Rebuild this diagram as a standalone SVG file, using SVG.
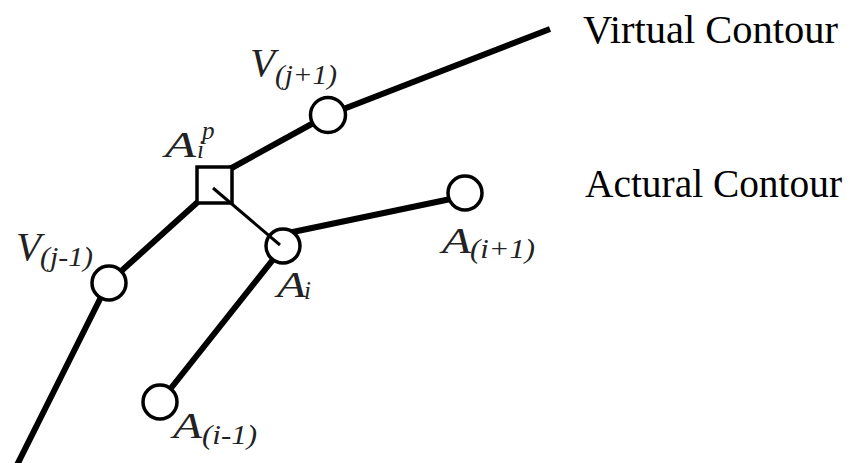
<svg xmlns="http://www.w3.org/2000/svg" width="850" height="463" viewBox="0 0 850 463">
<style>
.thick{stroke:#000;stroke-width:6;fill:none;stroke-linecap:butt}
.thin{stroke:#000;stroke-width:3;fill:none}
.node{fill:#fff;stroke:#000;stroke-width:3.5}
.lab{font-family:"Times New Roman","Liberation Serif",serif;font-style:italic;fill:#222}
.leg{font-family:"Times New Roman","Liberation Serif",serif;font-size:40px;fill:#000}
</style>
<rect width="850" height="463" fill="#fff"/>
<g id="connectors">
<line class="thick" x1="17" y1="465" x2="108" y2="283"/>
<line class="thick" x1="108" y1="283" x2="200" y2="200"/>
<line class="thick" x1="228" y1="170" x2="328" y2="115"/>
<line class="thick" x1="328" y1="115" x2="550" y2="29"/>
<line class="thick" x1="283" y1="247" x2="160" y2="402"/>
<line class="thick" x1="288" y1="233" x2="465" y2="196"/>
</g>
<g id="V-j-1"><circle class="node" cx="109" cy="283" r="17"/>
<text class="lab" x="16" y="260" font-size="41">V</text><text class="lab" x="40" y="266" font-size="28" textLength="53" lengthAdjust="spacingAndGlyphs">(j-1)</text></g>
<g id="V-j+1"><circle class="node" cx="328" cy="115" r="17.5"/>
<text class="lab" x="250" y="76" font-size="41">V</text><text class="lab" x="275" y="84" font-size="28" textLength="62" lengthAdjust="spacingAndGlyphs">(j+1)</text></g>
<g id="A-ip"><rect class="node" x="197" y="167" width="35" height="36"/>
<text class="lab" x="165" y="157" font-size="36" textLength="31" lengthAdjust="spacingAndGlyphs">A</text><text class="lab" x="197" y="158" font-size="25">i</text><text class="lab" x="202" y="139" font-size="25">p</text></g>
<g id="A-i"><circle class="node" cx="283" cy="246" r="17"/>
<text class="lab" x="277" y="297" font-size="36" textLength="29" lengthAdjust="spacingAndGlyphs">A</text><text class="lab" x="304" y="299" font-size="25">i</text></g>
<g id="thin-link"><line class="thin" x1="213" y1="188" x2="280" y2="245"/></g>
<g id="A-i+1"><circle class="node" cx="465" cy="193" r="17"/>
<text class="lab" x="442" y="253" font-size="36" textLength="29" lengthAdjust="spacingAndGlyphs">A</text><text class="lab" x="470" y="258" font-size="28" textLength="65" lengthAdjust="spacingAndGlyphs">(i+1)</text></g>
<g id="A-i-1"><circle class="node" cx="160" cy="402" r="17"/>
<text class="lab" x="173" y="438" font-size="36" textLength="29" lengthAdjust="spacingAndGlyphs">A</text><text class="lab" x="202" y="444" font-size="28" textLength="55" lengthAdjust="spacingAndGlyphs">(i-1)</text></g>
<g id="legend">
<text class="leg" x="583" y="43" textLength="255" lengthAdjust="spacingAndGlyphs">Virtual Contour</text>
<text class="leg" x="585" y="197" textLength="257" lengthAdjust="spacingAndGlyphs">Actural Contour</text>
</g>
</svg>
